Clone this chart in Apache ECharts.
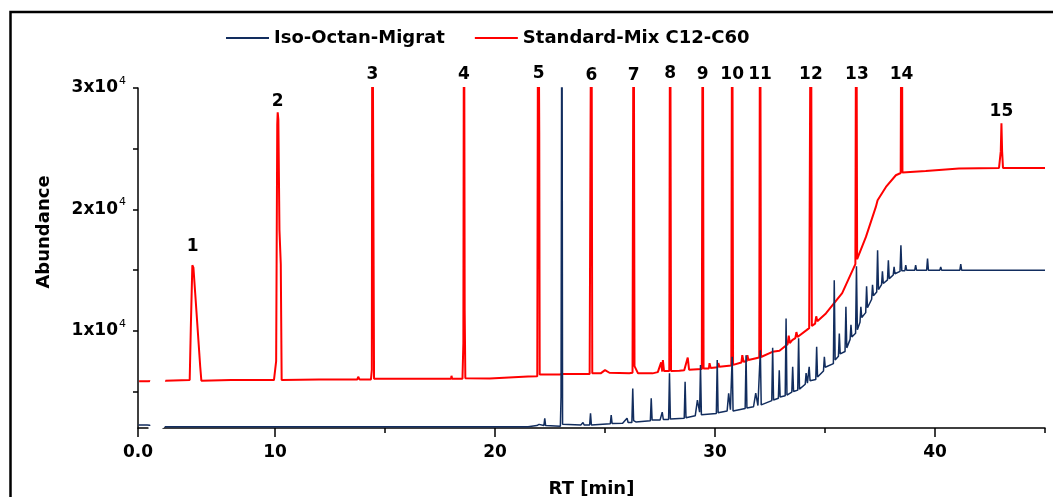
<!DOCTYPE html>
<html>
<head>
<meta charset="utf-8">
<script src="https://cdn.jsdelivr.net/npm/echarts@6/dist/echarts.min.js"></script>
<style>
  html, body { margin: 0; padding: 0; background: #fff; }
  #chart { width: 1053px; height: 497px; }
</style>
</head>
<body>
<div id="chart"></div>
<script>
// retention time [min], abundance
const isoOctanData = [
  [0.02, 2250], [0.42, 2250],
  [4.95, 2100], [6.28, 2100], [6.30, 2200], [6.32, 2100], [8.55, 2100], [8.58, 2200], [8.61, 2100],
  [12.63, 2100], [12.65, 2200], [12.68, 2100], [14.45, 2100], [14.47, 2200], [14.50, 2100],
  [18.53, 2100], [18.55, 2200], [18.58, 2100], [21.5, 2100], [21.9, 2200], [22.0, 2300],
  [22.22, 2200], [22.26, 2790], [22.30, 2200],
  [22.97, 2150], [23.00, 4600], [23.04, 45000], [23.07, 2300], [23.10, 2200],
  [23.9, 2250], [24.0, 2450], [24.05, 2250], [24.30, 2250], [24.34, 3200], [24.38, 2250],
  [25.24, 2350], [25.28, 3060], [25.32, 2380], [25.8, 2400], [26.0, 2810], [26.05, 2450],
  [26.22, 2450], [26.26, 5260], [26.30, 2600], [26.4, 2500],
  [27.06, 2600], [27.10, 4440], [27.14, 2650], [27.5, 2650], [27.6, 3300], [27.65, 2700],
  [27.89, 2700], [27.93, 6500], [27.97, 2750], [28.6, 2800], [28.64, 5800], [28.68, 2850],
  [29.1, 3000], [29.2, 4300], [29.3, 3300], [29.34, 7180], [29.38, 3100],
  [30.06, 3200], [30.10, 7590], [30.14, 3250], [30.55, 3400], [30.62, 4850], [30.70, 3500],
  [30.78, 7860], [30.82, 3400], [31.37, 3600], [31.41, 8000], [31.45, 3650],
  [31.75, 3750], [31.85, 4870], [31.95, 3850], [32.06, 8410], [32.10, 3900],
  [32.58, 4250], [32.62, 8600], [32.66, 4300], [32.88, 4450], [32.92, 6760], [32.96, 4550],
  [33.19, 4650], [33.23, 11020], [33.27, 4710], [33.49, 4950], [33.53, 7040], [33.57, 5000],
  [33.76, 5120], [33.80, 9380], [33.84, 5200], [34.10, 5600], [34.14, 6520], [34.20, 5700],
  [34.25, 5800], [34.28, 7040], [34.32, 5900], [34.58, 6000], [34.62, 8680], [34.66, 6200],
  [34.93, 6700], [34.97, 7860], [35.01, 7000], [35.38, 7300], [35.42, 14170], [35.46, 7600],
  [35.61, 7900], [35.65, 9790], [35.69, 8100], [35.91, 8300], [35.95, 11980], [35.99, 8600],
  [36.14, 9300], [36.18, 10500], [36.22, 9500], [36.39, 9800], [36.43, 15330], [36.47, 10100],
  [36.59, 10700], [36.63, 11980], [36.67, 11100], [36.85, 11500], [36.89, 13680], [36.93, 11900],
  [37.12, 12600], [37.16, 13800], [37.20, 12900], [37.35, 13200], [37.39, 16640], [37.43, 13400],
  [37.57, 13800], [37.61, 14900], [37.65, 13900], [37.84, 14200], [37.88, 15820], [37.92, 14300],
  [38.10, 14600], [38.14, 15270], [38.18, 14700], [38.41, 14900], [38.45, 17050], [38.49, 14950],
  [38.63, 14950], [38.67, 15410], [38.71, 15000], [39.08, 15000], [39.12, 15410], [39.16, 15000],
  [39.62, 15000], [39.66, 15960], [39.70, 15000], [40.22, 15000], [40.26, 15270], [40.30, 15000],
  [41.13, 15000], [41.17, 15490], [41.21, 15000], [42.00, 15000], [42.03, 15100], [42.06, 15000],
  [44.55, 15000], [44.58, 15080], [44.61, 15000], [45.0, 15000]
];

const standardMixData = [
  [0.05, 5850], [0.42, 5850],
  [5.0, 5900], [6.12, 5950], [6.17, 10200], [6.24, 15400], [6.29, 15200], [6.37, 13100],
  [6.60, 7000], [6.65, 5900],
  [8.0, 5950], [9.95, 5950], [10.05, 7500], [10.10, 27000], [10.12, 28000], [10.15, 27400],
  [10.20, 18300], [10.26, 15500], [10.30, 5950],
  [12.0, 6000], [13.74, 6000], [13.78, 6220], [13.84, 6000],
  [14.36, 6000], [14.40, 6800], [14.42, 45000], [14.47, 45000], [14.50, 6050],
  [16.0, 6050], [18.0, 6050], [18.02, 6300], [18.05, 6050],
  [18.52, 6050], [18.56, 9000], [18.59, 45000], [18.62, 11700], [18.65, 6100],
  [19.76, 6080], [21.5, 6250], [21.92, 6270], [21.96, 45000], [22.00, 45000], [22.01, 26300],
  [22.03, 6400], [22.94, 6410], [23.05, 6440],
  [24.30, 6440], [24.34, 6500], [24.38, 45000], [24.42, 6500],
  [24.8, 6500], [25.0, 6770], [25.2, 6550], [26.1, 6500],
  [26.25, 6550], [26.30, 45000], [26.34, 7100], [26.42, 7040], [26.5, 6500],
  [27.16, 6500], [27.4, 6600], [27.55, 7400], [27.60, 6650], [27.63, 7600], [27.68, 6700],
  [27.92, 6700], [27.96, 45000], [28.00, 6700],
  [28.38, 6710], [28.6, 6750], [28.76, 7800], [28.82, 6800],
  [29.40, 6850], [29.44, 45000], [29.48, 6900],
  [29.72, 6900], [29.75, 7340], [29.80, 6950], [30.12, 7000], [30.15, 7350], [30.20, 7050],
  [30.74, 7150], [30.78, 45000], [30.82, 7200],
  [31.20, 7400], [31.24, 8000], [31.30, 7450], [31.44, 7500], [31.47, 8000], [31.52, 7600],
  [32.01, 7800], [32.05, 45000], [32.09, 7850],
  [32.61, 8273], [32.93, 8355], [33.30, 8900], [33.35, 9600], [33.40, 9000],
  [33.51, 9236], [33.65, 9400], [33.70, 9900], [33.75, 9500],
  [34.28, 10222], [34.32, 10250], [34.36, 45000], [34.40, 10400],
  [34.55, 10600], [34.60, 11200], [34.65, 10800],
  [35.04, 11433], [35.78, 13104],
  [36.38, 15500], [36.42, 45000], [36.46, 15900],
  [36.86, 17738], [37.31, 20207], [37.39, 20760], [37.45, 20600], [37.77, 21852], [38.22, 22815],
  [38.44, 23000], [38.48, 45000], [38.52, 23037],
  [39.58, 23169], [41.09, 23366], [42.91, 23416],
  [42.95, 23420], [42.99, 24800], [43.02, 27100], [43.05, 24800], [43.09, 23420],
  [45.0, 23416]
];

// peak numbering of the n-alkane standard
const peakNumbers = ['1', '2', '3', '4', '5', '6', '7', '8', '9', '10', '11', '12', '13', '14', '15'];
const peakRT = [6.25, 10.12, 14.43, 18.59, 21.98, 24.38, 26.30, 27.96, 29.44, 30.78, 32.05, 34.36, 36.45, 38.48, 43.02];
const peakLabelLevel = [16900, 28850, 31100, 31100, 31200, 31000, 31000, 31200, 31100, 31100, 31100, 31100, 31100, 31100, 28050];

const yTicks = [5000, 10000, 15000, 20000, 25000, 30000];
const yLabels = [10000, 20000, 30000];
const xLabels = [0, 10, 20, 30, 40];
const xMinorTicks = [15, 25, 35, 45];

const chart = echarts.init(document.getElementById('chart'));

const boldFont = {
  fontFamily: 'DejaVu Sans',
  fontWeight: 'bold',
  fontSize: 17,
  color: '#000'
};
const bigFont = {...boldFont, fontSize: 18};

const breakCfg = [{start: 0.45, end: 4.9, gap: '1.65%'}];

chart.setOption({
  animation: false,
  textStyle: {fontFamily: 'DejaVu Sans'},
  legend: {
    data: ['Iso-Octan-Migrat', 'Standard-Mix C12-C60'],
    left: 221,
    top: 24,
    icon: 'rect',
    itemWidth: 43,
    itemHeight: 2,
    itemGap: 30,
    textStyle: bigFont
  },
  grid: {left: 138, right: 8, top: 88, bottom: 69, containLabel: false, outerBoundsMode: 'none'},
  xAxis: [{
    type: 'value',
    min: 0,
    max: 45,
    interval: 10,
    breaks: breakCfg,
    breakArea: {
      show: true,
      itemStyle: {color: '#fff', borderColor: '#fff', borderWidth: 0, opacity: 1},
      zigzagAmplitude: 2,
      zigzagZ: 100,
      expandOnClick: false
    },
    name: 'RT [min]',
    nameLocation: 'middle',
    nameGap: 52,
    nameTextStyle: bigFont,
    axisLine: {show: true, onZero: false, lineStyle: {color: '#000', width: 1.5}},
    axisTick: {show: true, length: 9, customValues: xLabels, lineStyle: {color: '#000', width: 1.5}},
    axisLabel: {
      customValues: xLabels,
      margin: 16,
      ...boldFont,
      formatter: v => v === 0 ? '0.0' : String(v)
    },
    splitLine: {show: false}
  }, {
    type: 'value',
    min: 0,
    max: 45,
    breaks: breakCfg,
    breakArea: {show: false},
    position: 'bottom',
    axisLine: {show: false},
    axisTick: {show: true, length: 5, customValues: xMinorTicks, lineStyle: {color: '#000', width: 1.5}},
    axisLabel: {show: false},
    splitLine: {show: false}
  }],
  yAxis: {
    type: 'value',
    min: 2000,
    max: 30000,
    axisLine: {show: true, lineStyle: {color: '#000', width: 1.5}},
    axisTick: {show: true, length: 5, customValues: yTicks, lineStyle: {color: '#000', width: 1.5}},
    axisLabel: {
      customValues: yLabels,
      margin: 12,
      formatter: v => '{b|' + (v / 10000) + 'x10}{sup|4}',
      rich: {
        b: {...boldFont},
        sup: {fontFamily: 'DejaVu Sans', fontSize: 11, color: '#000', padding: [0, 0, 14, 1]}
      }
    },
    splitLine: {show: false}
  },
  series: [{
    name: 'Iso-Octan-Migrat',
    type: 'line',
    data: isoOctanData,
    showSymbol: false,
    symbol: 'none',
    z: 3,
    color: '#122d5e',
    lineStyle: {color: '#122d5e', width: 1.5}
  }, {
    name: 'Standard-Mix C12-C60',
    type: 'line',
    data: standardMixData,
    showSymbol: false,
    symbol: 'none',
    z: 2,
    color: '#ff0000',
    lineStyle: {color: '#ff0000', width: 2}
  }, {
    name: 'peaks',
    type: 'scatter',
    symbolSize: 0,
    clip: false,
    silent: true,
    z: 5,
    itemStyle: {opacity: 1},
    data: peakNumbers.map((n, i) => ({name: n, value: [peakRT[i], peakLabelLevel[i]]})),
    label: {
      show: true,
      position: 'inside',
      formatter: p => p.name,
      ...boldFont,
      opacity: 1,
      textBorderWidth: 0
    }
  }],
  graphic: [{
    type: 'rect',
    shape: {x: 10.5, y: 12, width: 1100, height: 600},
    style: {fill: 'none', stroke: '#000', lineWidth: 2.5},
    silent: true
  }, {
    type: 'text',
    x: 44,
    y: 232,
    rotation: Math.PI / 2,
    style: {
      text: 'Abundance',
      fontFamily: 'DejaVu Sans',
      fontWeight: 'bold',
      fontSize: 18,
      fill: '#000',
      align: 'center',
      verticalAlign: 'middle'
    }
  }]
});
</script>
</body>
</html>
